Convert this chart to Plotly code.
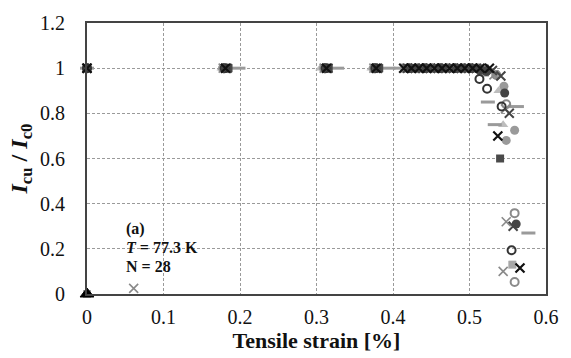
import plotly.graph_objects as go

# ---- data ----
blackx_x = [0, 0.181, 0.313, 0.378, 0.414, 0.424, 0.434, 0.444, 0.454, 0.464, 0.474, 0.484, 0.494, 0.504, 0.514, 0.526, 0.537, 0.566]
blackx_y = [1, 1, 1, 1, 1, 1, 1, 1, 1, 1, 1, 1, 1, 1, 1, 1.0, 0.70, 0.115]

darkx_x = [0, 0.183, 0.315, 0.380, 0.419, 0.429, 0.439, 0.449, 0.459, 0.469, 0.479, 0.489, 0.499, 0.509, 0.519, 0.530, 0.541, 0.552, 0.557]
darkx_y = [1, 1, 1, 1, 1, 1, 1, 1, 1, 1, 1, 1, 1, 1, 0.995, 0.99, 0.965, 0.80, 0.30]

grayx_x = [0, 0.061, 0.178, 0.310, 0.375, 0.417, 0.437, 0.457, 0.477, 0.497, 0.517, 0.532, 0.547, 0.548, 0.544]
grayx_y = [1, 0.025, 1, 1, 1, 1, 1, 1, 1, 1, 0.99, 0.97, 0.82, 0.32, 0.10]

darkring_x = [0, 0.180, 0.312, 0.377, 0.420, 0.440, 0.460, 0.480, 0.500, 0.513, 0.523, 0.542, 0.555]
darkring_y = [1, 1, 1, 1, 1, 1, 1, 1, 1, 0.952, 0.909, 0.83, 0.194]

grayring_x = [0, 0.179, 0.311, 0.376, 0.430, 0.450, 0.470, 0.490, 0.510, 0.535, 0.548, 0.559, 0.559]
grayring_y = [1, 1, 1, 1, 1, 1, 1, 1, 1, 0.97, 0.84, 0.358, 0.053]

darkdot_x = [0, 0.182, 0.314, 0.379, 0.425, 0.445, 0.465, 0.485, 0.505, 0.522, 0.546, 0.561]
darkdot_y = [1, 1, 1, 1, 1, 1, 1, 1, 1, 0.985, 0.89, 0.31]

graydot_x = [0, 0.177, 0.309, 0.374, 0.415, 0.435, 0.455, 0.475, 0.495, 0.515, 0.535, 0.545, 0.559, 0.548]
graydot_y = [1, 1, 1, 1, 1, 1, 1, 1, 1, 1, 0.97, 0.92, 0.725, 0.68]

dash_x = [0, 0.198, 0.327, 0.394, 0.410, 0.430, 0.450, 0.470, 0.490, 0.510, 0.524, 0.533, 0.562, 0.577]
dash_y = [1, 1, 1, 1, 1, 1, 1, 1, 1, 1, 0.85, 0.75, 0.83, 0.27]

tri_x = [0, 0.176, 0.305, 0.372, 0.420, 0.440, 0.460, 0.480, 0.500, 0.520, 0.538, 0.544]
tri_y = [1, 1, 1, 1, 1, 1, 1, 1, 1, 1, 0.90, 0.75]

darksq_x = [0, 0.185, 0.316, 0.382, 0.430, 0.460, 0.490, 0.515, 0.540]
darksq_y = [1, 1, 1, 1, 1, 1, 1, 0.99, 0.60]

graysq_x = [0, 0.184, 0.312, 0.380, 0.440, 0.470, 0.500, 0.520, 0.556]
graysq_y = [0, 1, 1, 1, 1, 1, 1, 0.98, 0.13]

blacktri_x = [0]
blacktri_y = [0]

xticks = [0, 0.1, 0.2, 0.3, 0.4, 0.5, 0.6]
xticklabels = ["0", "0.1", "0.2", "0.3", "0.4", "0.5", "0.6"]
yticks = [0, 0.2, 0.4, 0.6, 0.8, 1.0, 1.2]
yticklabels = ["0", "0.2", "0.4", "0.6", "0.8", "1", "1.2"]

FONT = "Liberation Serif, Times New Roman, serif"

fig = go.Figure()

def add(xs, ys, symbol, color, size, lw=0, lcolor=None):
    fig.add_trace(go.Scatter(
        x=xs, y=ys, mode="markers", cliponaxis=False, showlegend=False,
        marker=dict(symbol=symbol, color=color, size=size,
                    line=dict(width=lw, color=lcolor if lcolor else color))))

add(graysq_x, graysq_y, "square", "#a8a8a8", 8)
add(tri_x, tri_y, "triangle-up", "#bdbdbd", 9)
add(graydot_x, graydot_y, "circle", "#9a9a9a", 9)
add(dash_x, dash_y, "line-ew", "#9a9a9a", 10, 3)
add(grayring_x, grayring_y, "circle-open", "#8a8a8a", 8, 2)
add(grayx_x, grayx_y, "x-thin-open", "#8a8a8a", 9, 1.6)
add(darksq_x, darksq_y, "square", "#4a4a4a", 8)
add(darkdot_x, darkdot_y, "circle", "#444444", 9)
add(darkring_x, darkring_y, "circle-open", "#333333", 8, 2)
add(darkx_x, darkx_y, "x-thin-open", "#444444", 9, 2)
add(blackx_x, blackx_y, "x-thin-open", "#111111", 9, 2.2)
add(blacktri_x, blacktri_y, "triangle-up", "#000000", 12, 1, "#000000")

fig.update_layout(
    width=571, height=358,
    margin=dict(l=87, r=15, t=18, b=64),
    paper_bgcolor="white", plot_bgcolor="white",
    font=dict(family=FONT, size=20, color="#111"),
    xaxis=dict(range=[0, 0.6], tickvals=xticks, ticktext=xticklabels,
               showgrid=True, gridcolor="#9a9a9a", griddash="3px,2px", gridwidth=1,
               showline=True, linecolor="#444", linewidth=2, mirror=True,
               zeroline=False, ticks="", ticklabelstandoff=4,
               tickfont=dict(family=FONT, size=20),
               title=dict(text="<b>Tensile strain [%]</b>", standoff=3,
                          font=dict(family=FONT, size=22))),
    yaxis=dict(range=[0, 1.2], tickvals=yticks, ticktext=yticklabels,
               showgrid=True, gridcolor="#9a9a9a", griddash="3px,2px", gridwidth=1,
               showline=True, linecolor="#444", linewidth=2, mirror=True,
               zeroline=False, ticks="", ticklabelstandoff=16,
               tickfont=dict(family=FONT, size=20),
               title=dict(text="<b><i>I</i><sub>cu</sub> / <i>I</i><sub>c0</sub></b>",
                          standoff=6, font=dict(family=FONT, size=24))),
)

ann_lines = ["<b>(a)</b>", "<b><i>T</i> = 77.3 K</b>", "<b>N = 28</b>"]
ann_y = [0.2391, 0.1703, 0.1014]
for txt, yy in zip(ann_lines, ann_y):
    fig.add_annotation(
        xref="paper", yref="paper", x=0.081, y=yy, xanchor="left", yanchor="middle",
        align="left", showarrow=False, text=txt,
        font=dict(family=FONT, size=16, color="#111"))

fig.write_html("out.html")
